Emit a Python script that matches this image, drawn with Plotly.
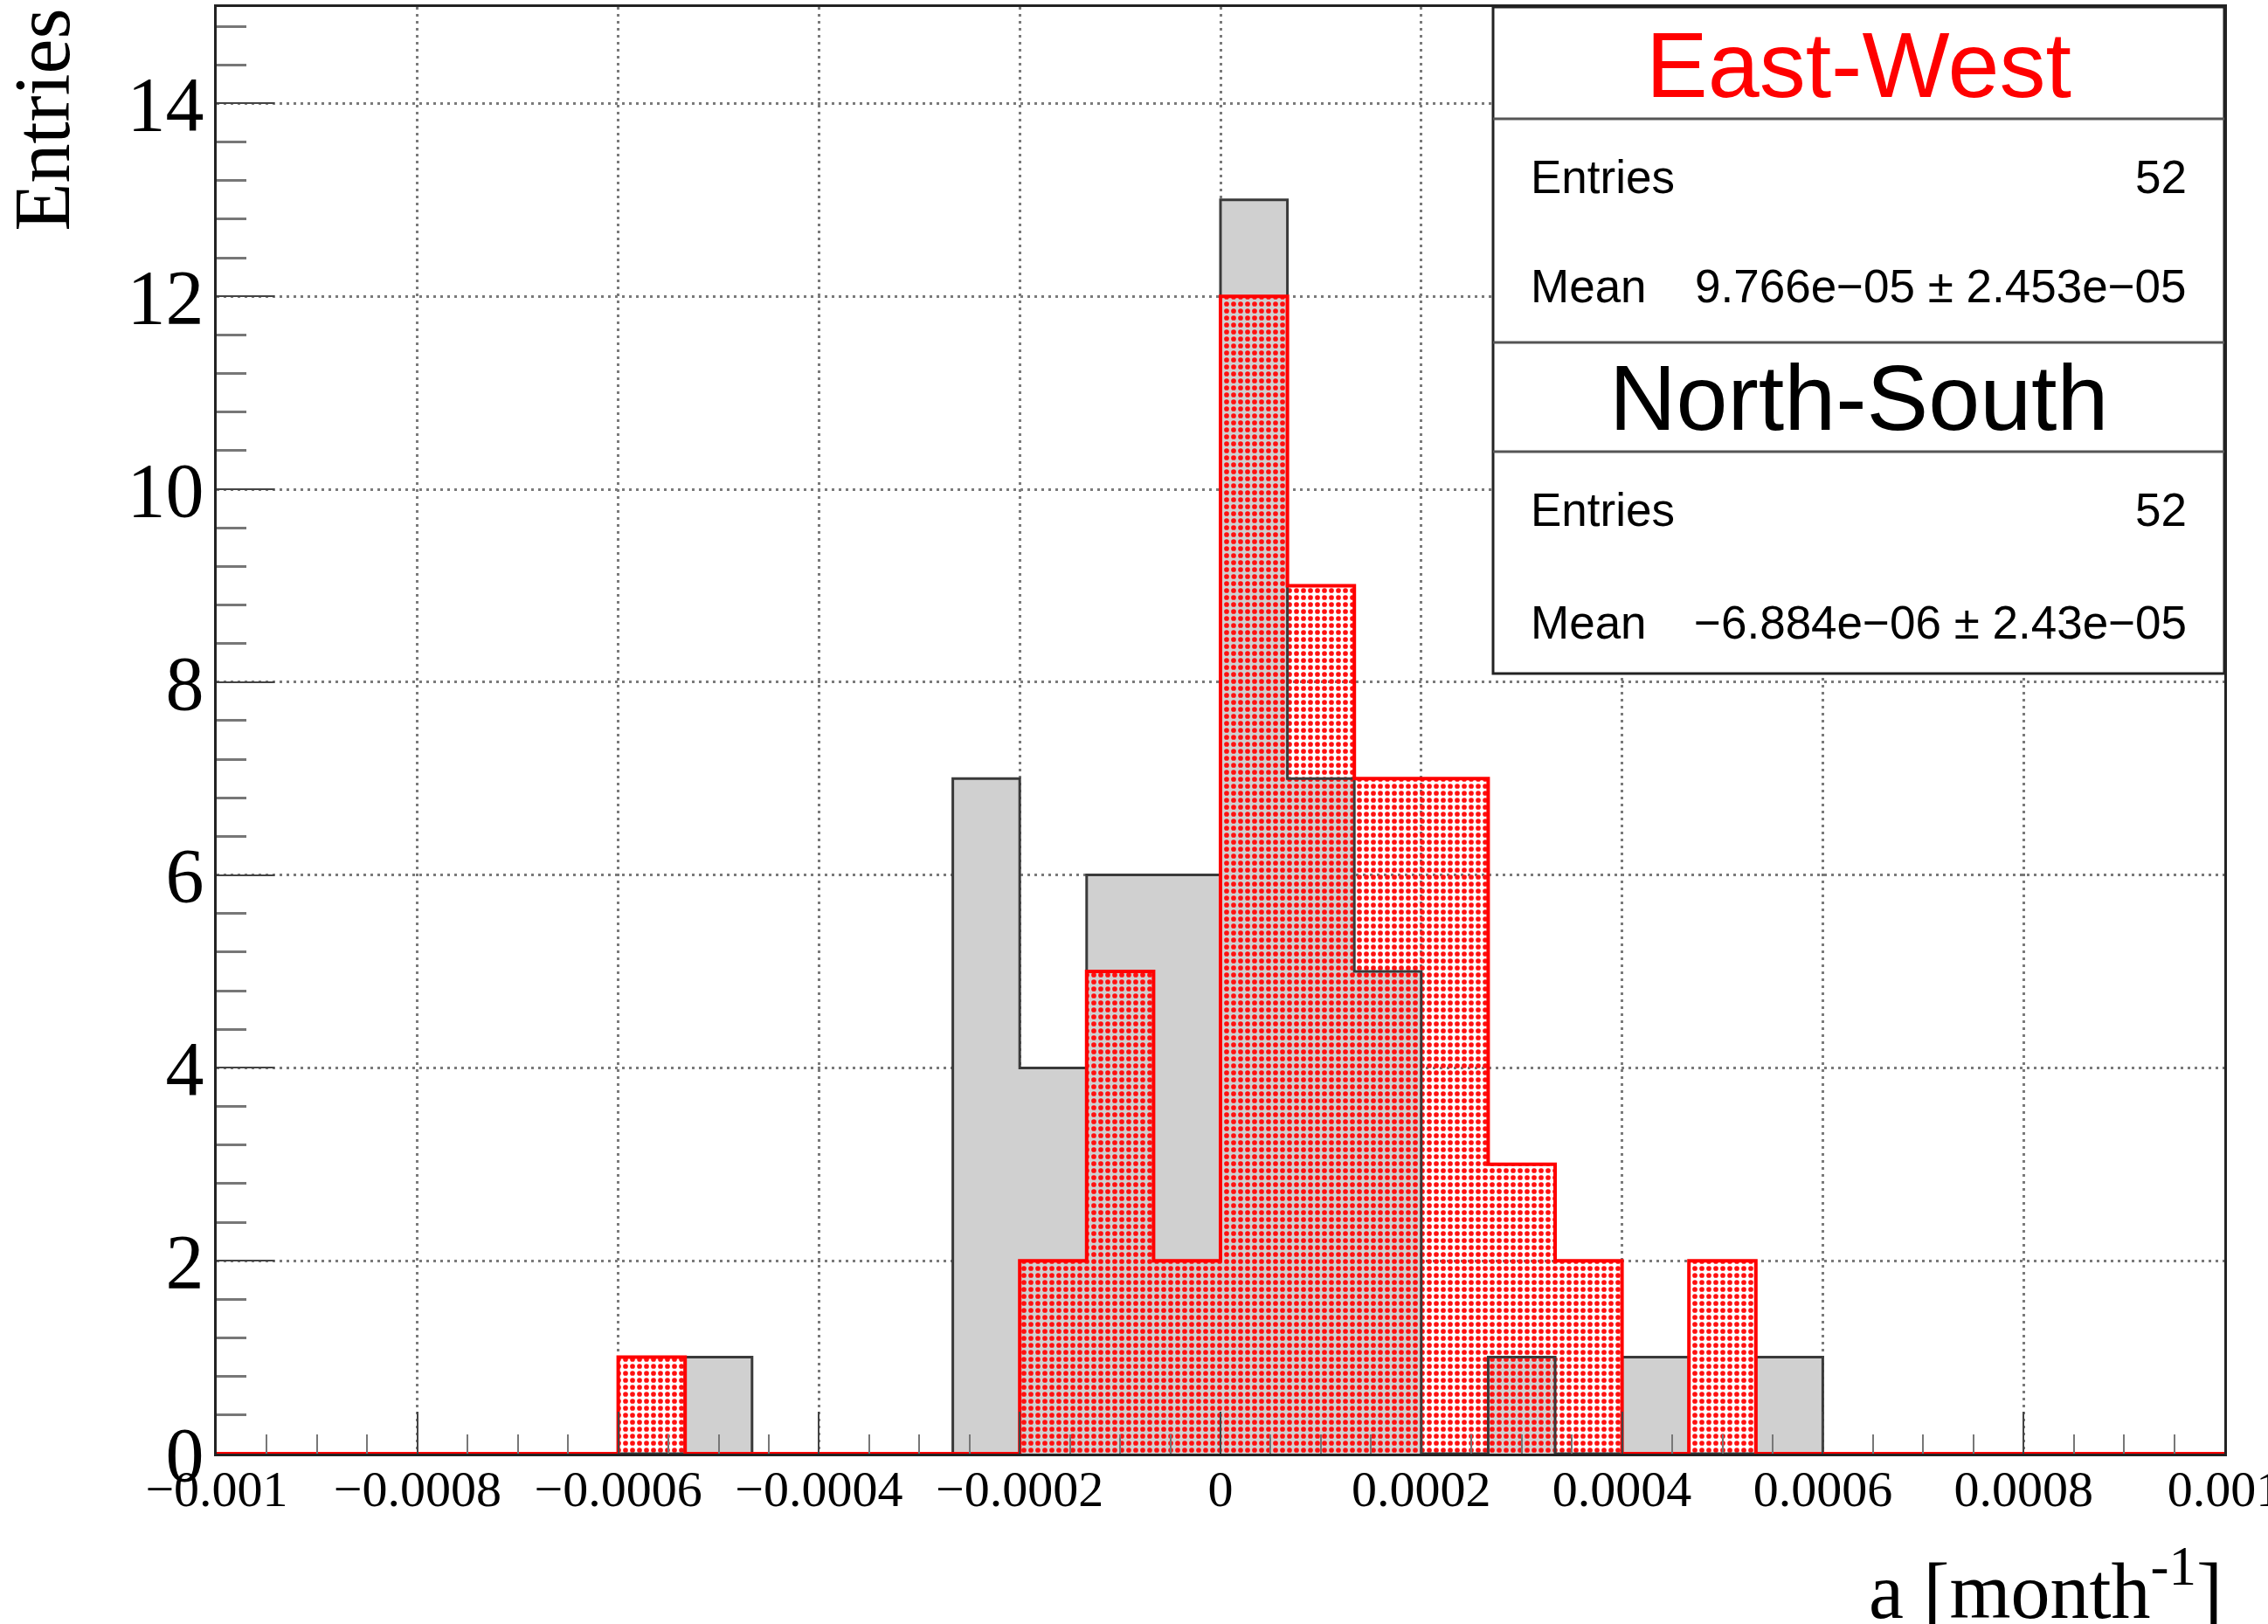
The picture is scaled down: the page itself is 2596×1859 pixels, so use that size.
import numpy as np
import plotly.graph_objects as go

# ---------------- data ----------------
x_min, x_max, n_bins = -0.001, 0.001, 30
north_south_counts = [0, 0, 0, 0, 0, 0, 0, 1, 0, 0, 0, 7, 4, 6, 6, 13, 7, 5, 0, 1, 0, 1, 0, 1, 0, 0, 0, 0, 0, 0]
east_west_counts = [0, 0, 0, 0, 0, 0, 1, 0, 0, 0, 0, 0, 2, 5, 2, 12, 9, 7, 7, 3, 2, 0, 2, 0, 0, 0, 0, 0, 0, 0]

x_tickvals = [-0.001, -0.0008, -0.0006, -0.0004, -0.0002, 0, 0.0002, 0.0004, 0.0006, 0.0008, 0.001]
x_ticktext = ["\u22120.001", "\u22120.0008", "\u22120.0006", "\u22120.0004", "\u22120.0002", "0",
              "0.0002", "0.0004", "0.0006", "0.0008", "0.001"]

ew_title, ns_title = "East-West", "North-South"
ew_entries, ns_entries = "52", "52"
ew_mean = "9.766e\u221205 \u00b1 2.453e\u221205"
ns_mean = "\u22126.884e\u221206 \u00b1 2.43e\u221205"

# ---------------- geometry ----------------
W, H = 2596, 1859
L, R, T, B = 248, 2546, 8, 1664  # plot area in pixels
PW, PH = R - L, B - T


def px(x):
    return (x - L) / PW


def py(y):
    return (B - y) / PH


edges = np.linspace(x_min, x_max, n_bins + 1)
centers = 0.5 * (edges[:-1] + edges[1:])
binw = edges[1] - edges[0]

fig = go.Figure()

# North-South: grey filled histogram
fig.add_trace(go.Bar(x=centers, y=north_south_counts, width=binw,
                     marker=dict(color="#d0d0d0", line=dict(width=0)),
                     showlegend=False, hoverinfo="skip"))
fig.add_trace(go.Scatter(x=edges, y=list(north_south_counts) + [north_south_counts[-1]],
                         mode="lines", line=dict(color="#3a3a3a", width=3, shape="hv"),
                         showlegend=False, hoverinfo="skip"))

# East-West: red dotted pattern histogram
fig.add_trace(go.Bar(x=centers, y=east_west_counts, width=binw,
                     marker=dict(color="red", line=dict(width=0),
                                 pattern=dict(shape=".", fgcolor="#ff1010", bgcolor="rgba(0,0,0,0)",
                                              size=8, solidity=0.4, fillmode="replace")),
                     showlegend=False, hoverinfo="skip"))
fig.add_trace(go.Scatter(x=edges, y=list(east_west_counts) + [east_west_counts[-1]],
                         mode="lines", line=dict(color="#ff0000", width=4, shape="hv"),
                         showlegend=False, hoverinfo="skip"))

serif = "Liberation Serif"
sans = "Liberation Sans"

fig.update_layout(
    width=W, height=H,
    margin=dict(l=L, r=W - R, t=T, b=H - B, pad=0, autoexpand=False),
    paper_bgcolor="white", plot_bgcolor="white",
    barmode="overlay", bargap=0,
    showlegend=False,
    xaxis=dict(range=[x_min, x_max], tickvals=x_tickvals, ticktext=x_ticktext,
               ticks="inside", ticklen=48, tickwidth=2, tickcolor="#444",
               minor=dict(ticks="inside", ticklen=22, tickwidth=2, tickcolor="#777",
                          dtick=0.00005, tick0=0, showgrid=False),
               showgrid=True, gridcolor="#7a7a7a", gridwidth=3, griddash="3px,5px",
               showline=True, linecolor="#222", linewidth=3, mirror=True,
               zeroline=False, ticklabeloverflow="allow", automargin=False,
               tickfont=dict(family=serif, size=58, color="black"),
               ticklabelstandoff=-13),
    yaxis=dict(range=[0, 15], tick0=0, dtick=2,
               ticks="inside", ticklen=66, tickwidth=2, tickcolor="#444",
               minor=dict(ticks="inside", ticklen=34, tickwidth=3, tickcolor="#777",
                          dtick=0.4, tick0=0, showgrid=False),
               showgrid=True, gridcolor="#7a7a7a", gridwidth=3, griddash="3px,5px",
               showline=True, linecolor="#222", linewidth=3, mirror=True,
               zeroline=False, ticklabeloverflow="allow", automargin=False,
               tickfont=dict(family=serif, size=88, color="black"),
               ticklabelstandoff=-6),
)

# axis titles
fig.add_annotation(text="a [month<sup>-1</sup>]", xref="paper", yref="paper",
                   x=1.0, y=py(1814), xanchor="right", yanchor="middle", showarrow=False,
                   font=dict(family=serif, size=90, color="black"))
fig.add_annotation(text="Entries", xref="paper", yref="paper", textangle=-90,
                   x=px(48), y=1.0, xanchor="center", yanchor="top", showarrow=False,
                   font=dict(family=serif, size=90, color="black"))

# stats box
bx0, bx1 = px(1709), px(2546)
by_top, by_bot = py(8), py(771)
fig.add_shape(type="rect", xref="paper", yref="paper", x0=bx0, x1=bx1, y0=by_bot, y1=by_top,
              fillcolor="white", line=dict(color="#222", width=3), layer="above")
for yy in (136, 392, 517):
    fig.add_shape(type="line", xref="paper", yref="paper", x0=bx0, x1=bx1, y0=py(yy), y1=py(yy),
                  line=dict(color="#555", width=3), layer="above")

xc = (bx0 + bx1) / 2
fig.add_annotation(text=ew_title, xref="paper", yref="paper", x=xc, y=py(74), xanchor="center",
                   yanchor="middle", showarrow=False, font=dict(family=sans, size=106, color="red"))
fig.add_annotation(text=ns_title, xref="paper", yref="paper", x=xc, y=py(455), xanchor="center",
                   yanchor="middle", showarrow=False, font=dict(family=sans, size=106, color="black"))

lab_x, val_x = px(1750), px(2505)
rows = [(203, "Entries", ew_entries), (328, "Mean", ew_mean),
        (583, "Entries", ns_entries), (712, "Mean", ns_mean)]
for yy, lab, val in rows:
    fig.add_annotation(text=lab, xref="paper", yref="paper", x=lab_x, y=py(yy), xanchor="left",
                       yanchor="middle", showarrow=False, font=dict(family=sans, size=53, color="black"))
    fig.add_annotation(text=val, xref="paper", yref="paper", x=val_x, y=py(yy), xanchor="right",
                       yanchor="middle", showarrow=False, font=dict(family=sans, size=53, color="black"))

fig.write_html("out.html")
